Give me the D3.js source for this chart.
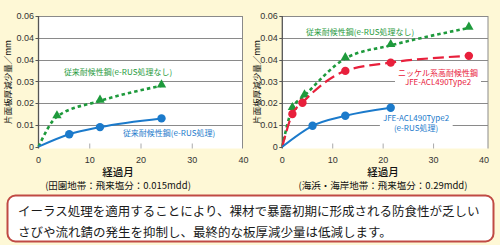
<!DOCTYPE html>
<html><head><meta charset="utf-8">
<script src="https://cdn.jsdelivr.net/npm/d3@7"></script>
<style>
html,body{margin:0;padding:0;background:#FEF8D6;}
svg{display:block;}
</style></head>
<body>
<svg id="c" width="500" height="245"></svg>
<script>
// ---- data ----
const xTicks = [0, 10, 20, 30, 40];
const yTickValues = [0, 0.01, 0.02, 0.03, 0.04, 0.05, 0.06];
const yTickLabels = ["0", "0.01", "0.02", "0.03", "0.04", "0.04", "0.06"];
const yAxisTitle = "片面板厚減少量／mm";
const xAxisTitle = "経過月";

// left panel: rural
const leftSubtitle = "(田園地帯：飛来塩分：0.015mdd)";
const leftGreenMonths = [0, 3.6, 12, 24];
const leftGreenValues = [0, 0.0138, 0.021, 0.028];
const leftBlueMonths = [0, 6, 12, 24];
const leftBlueValues = [0, 0.0057, 0.009, 0.013];
const leftGreenLabel = "従来耐候性鋼(e-RUS処理なし)";
const leftBlueLabel = "従来耐候性鋼(e-RUS処理)";

// right panel: coastal
const rightSubtitle = "(海浜・海岸地帯：飛来塩分：0.29mdd)";
const rightGreenMonths = [0, 2, 4.4, 12.5, 21.5, 37];
const rightGreenValues = [0, 0.0176, 0.0234, 0.0405, 0.0465, 0.0545];
const rightRedMonths = [0, 2, 4, 12.5, 21.5, 37];
const rightRedValues = [0, 0.015, 0.0202, 0.0348, 0.0386, 0.0417];
const rightBlueMonths = [0, 6, 12.5, 21.5];
const rightBlueValues = [0, 0.0096, 0.0142, 0.0179];
const rightGreenLabel = "従来耐候性鋼(e-RUS処理なし)";
const rightRedLabel = ["ニッケル系高耐候性鋼", "JFE-ACL490Type2"];
const rightBlueLabel = ["JFE-ACL490Type2", "(e-RUS処理)"];

const noteLines = [
  "イーラス処理を適用することにより、裸材で暴露初期に形成される防食性が乏しい",
  "さびや流れ錆の発生を抑制し、最終的な板厚減少量は低減します。"
];

// ---- styles ----
const GREEN = "#1E9A3C", BLUE = "#1B7ACB", RED = "#E8203C";
const JP = "'Noto Sans CJK JP', sans-serif";
const NUM = "'Liberation Sans', Arial, sans-serif";
const TOP = 16, BOT = 148.5;

const svg = d3.select("#c");

function zip(xs, ys) { return xs.map((x, i) => ({x, y: ys[i]})); }

function panel(opt) {
  const x = d3.scaleLinear().domain([0, 40]).range([opt.x0, opt.x1]);
  const y = d3.scaleLinear().domain([0, 0.06]).range([146.7, TOP]);
  const g = svg.append("g");
  // plot background
  g.append("rect").attr("x", opt.x0).attr("y", TOP)
    .attr("width", opt.right - opt.x0).attr("height", BOT - TOP)
    .attr("fill", "#fff");
  // grid
  g.selectAll(null).data(yTickValues.slice(1)).join("line")
    .attr("x1", opt.x0).attr("x2", opt.right)
    .attr("y1", d => Math.round(y(d)) + 0.5).attr("y2", d => Math.round(y(d)) + 0.5)
    .attr("stroke", "#8a8a8a").attr("stroke-width", 1);
  // right border
  g.append("line").attr("x1", opt.right).attr("x2", opt.right)
    .attr("y1", TOP).attr("y2", BOT).attr("stroke", "#8a8a8a");
  // x ticks (inside)
  g.selectAll(null).data(xTicks.slice(1, 4)).join("line")
    .attr("x1", d => x(d)).attr("x2", d => x(d))
    .attr("y1", BOT).attr("y2", BOT - 5).attr("stroke", "#aaa");
  // left axis line + ticks
  g.append("line").attr("x1", opt.x0).attr("x2", opt.x0).attr("y1", TOP).attr("y2", BOT)
    .attr("stroke", "#555").attr("stroke-width", 1.3);
  g.selectAll(null).data(yTickValues).join("line")
    .attr("x1", opt.x0 - 3).attr("x2", opt.x0)
    .attr("y1", d => Math.round(y(d)) + 0.5).attr("y2", d => Math.round(y(d)) + 0.5)
    .attr("stroke", "#555");
  const yl = svg.append("g");
  yl.selectAll(null).data(yTickValues).join("text")
    .attr("x", opt.x0 - 4.5)
    .attr("y", d => y(d) + 3.2)
    .attr("text-anchor", "end")
    .style("font-family", NUM).style("font-size", "9px")
    .style("fill", "#333")
    .text((d, i) => yTickLabels[i]);
  // x tick labels
  g.selectAll(null).data(xTicks).join("text")
    .attr("x", d => x(d)).attr("y", 160).attr("dy", "0.35em")
    .attr("text-anchor", "middle").attr("font-family", NUM).attr("font-size", 9)
    .attr("fill", "#333").text(d => d);
  // titles
  g.append("text").attr("x", opt.titleX).attr("y", 176)
    .attr("text-anchor", "middle").attr("font-family", JP).attr("font-size", 10.5)
    .attr("font-weight", 500).attr("fill", "#111").text(xAxisTitle);
  g.append("text").attr("x", opt.titleX).attr("y", 189)
    .attr("text-anchor", "middle").attr("font-family", JP).attr("font-size", 9.5)
    .attr("fill", "#111").text(opt.subtitle);
  g.append("text")
    .attr("transform", `translate(${opt.yTitleX},82) rotate(-90)`)
    .attr("text-anchor", "middle").attr("dominant-baseline", "central")
    .attr("font-family", JP).attr("font-size", 8.5).attr("fill", "#111")
    .text(yAxisTitle);

  const line = d3.line().x(d => x(d.x)).y(d => y(d.y)).curve(d3.curveMonotoneX);
  return {g, x, y, line};
}

function series(p, data, color, dash, marker, width) {
  p.g.append("path").datum(data).attr("d", p.line)
    .attr("fill", "none").attr("stroke", color).attr("stroke-width", width)
    .attr("stroke-dasharray", dash);
  const pts = data.slice(1);
  if (marker === "tri") {
    p.g.selectAll(null).data(pts).join("path")
      .attr("d", d3.symbol(d3.symbolTriangle, 38))
      .attr("transform", d => `translate(${p.x(d.x)},${p.y(d.y) - 1})`)
      .attr("fill", color);
  } else {
    p.g.selectAll(null).data(pts).join("circle")
      .attr("cx", d => p.x(d.x)).attr("cy", d => p.y(d.y)).attr("r", 4.2)
      .attr("fill", color);
  }
}

function label(p, lines, cx, cy, color, bg) {
  const t = p.g.append("text").attr("font-family", JP).attr("font-size", 8)
    .attr("fill", color).attr("text-anchor", "middle");
  lines.forEach((s, i) => t.append("tspan").attr("x", cx).attr("y", cy + i * 9.5).text(s));
  if (bg) {
    const b = t.node().getBBox();
    p.g.insert("rect", () => t.node()).attr("x", b.x - 3).attr("y", b.y)
      .attr("width", b.width + 6).attr("height", b.height).attr("fill", "#fff");
  }
}

// ---- left panel ----
const L = panel({x0: 38.5, x1: 243.5, right: 242.5, titleX: 118, subtitle: leftSubtitle, yTitleX: 7});
series(L, zip(leftGreenMonths, leftGreenValues), GREEN, "3.5,3", "tri", 2.6);
series(L, zip(leftBlueMonths, leftBlueValues), BLUE, null, "dot", 2);
label(L, [leftGreenLabel], 118, 75, GREEN, false);
label(L, [leftBlueLabel], 169, 136, BLUE, false);

// ---- right panel ----
const R = panel({x0: 282.3, x1: 484, right: 488, titleX: 383, subtitle: rightSubtitle, yTitleX: 256});
series(R, zip(rightGreenMonths, rightGreenValues), GREEN, "3.5,3", "tri", 2.6);
series(R, zip(rightRedMonths, rightRedValues), RED, "11,5", "dot", 2.2);
series(R, zip(rightBlueMonths, rightBlueValues), BLUE, null, "dot", 2);
label(R, [rightGreenLabel], 360, 35, GREEN, false);
label(R, rightRedLabel, 438, 75.5, RED, true);
label(R, rightBlueLabel, 416, 121, BLUE, true);

// ---- note box ----
svg.append("rect").attr("x", 7.5).attr("y", 195.5).attr("width", 486).attr("height", 46)
  .attr("rx", 8).attr("fill", "#fff").attr("stroke", "#C04A44").attr("stroke-width", 2);
const nt = svg.append("text").attr("font-family", JP).attr("font-size", 12.5).attr("fill", "#1a1a1a");
noteLines.forEach((s, i) => nt.append("tspan").attr("x", 18).attr("y", 216 + i * 20.5).text(s));
</script>
</body></html>
